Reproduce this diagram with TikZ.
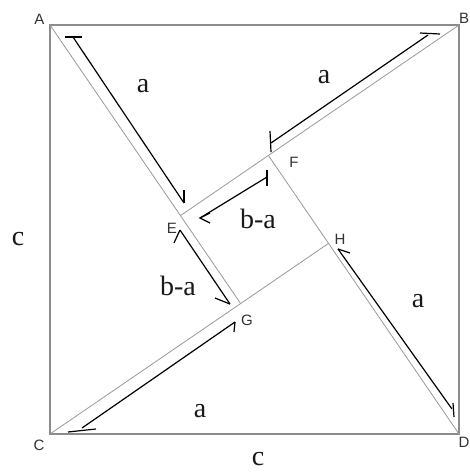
\documentclass[tikz,border=0pt]{standalone}
\usepackage{fontspec}
\setmainfont{Liberation Serif}
\newfontfamily\vfont{Liberation Sans}
\begin{document}
\begin{tikzpicture}[x=1pt,y=-1pt,
  sq/.style={draw=black!45, line width=1.6pt},
  inner/.style={draw=black!40, line width=0.8pt},
  dim/.style={draw=black, line width=1.2pt},
  lbl/.style={font=\fontsize{28}{30}\selectfont, text=black!90, anchor=base, inner sep=0pt},
  vlbl/.style={font=\vfont\fontsize{15}{16}\selectfont, text=black!80, inner sep=0pt}]
\useasboundingbox (0,0) rectangle (470,472);
\fill[white] (0,0) rectangle (470,472);
% corners and inner points
\coordinate (A) at (50,25);
\coordinate (B) at (459,25);
\coordinate (C) at (50,434);
\coordinate (D) at (459,434);
\coordinate (E) at (180.5,215.6);
\coordinate (F) at (268.4,155.5);
\coordinate (G) at (240.6,303.5);
\coordinate (H) at (328.5,243.4);
% square and triangles
\draw[sq] (A) -- (B) -- (D) -- (C) -- cycle;
\draw[inner] (A) -- (G);
\draw[inner] (B) -- (E);
\draw[inner] (C) -- (H);
\draw[inner] (D) -- (F);
% dimension line A-E
\coordinate (ae1) at (73,37);  \coordinate (ae2) at (184,203);
\coordinate (ae1l) at (65,37); \coordinate (ae1r) at (82,37);
\coordinate (ae2b) at (184,190);
\draw[dim] (ae1) -- (ae2);
\draw[dim] (ae1l) -- (ae1r);
\draw[dim] (ae2b) -- (ae2);
% dimension line B-F
\coordinate (bf1) at (428,35);  \coordinate (bf2) at (271,143);
\coordinate (bf1l) at (420,33); \coordinate (bf1r) at (440,34);
\coordinate (bf2t) at (270,131); \coordinate (bf2b) at (271,152);
\draw[dim] (bf1) -- (bf2);
\draw[dim] (bf1l) -- (bf1r);
\draw[dim] (bf2t) -- (bf2b);
% dimension line F-E
\coordinate (fe1) at (267,177);  \coordinate (fe2) at (200,218);
\coordinate (fe1t) at (267,170); \coordinate (fe1b) at (267,186);
\coordinate (fe2u) at (210,213); \coordinate (fe2d) at (210,223);
\draw[dim] (fe1) -- (fe2);
\draw[dim] (fe1t) -- (fe1b);
\draw[dim] (fe2u) -- (fe2) -- (fe2d);
% dimension line E-G
\coordinate (eg1) at (180,230);  \coordinate (eg2) at (230,304);
\coordinate (eg1b) at (174,243); \coordinate (eg2b) at (215,298);
\draw[dim] (eg1) -- (eg2);
\draw[dim] (eg1b) -- (eg1);
\draw[dim] (eg2b) -- (eg2);
% dimension line C-G
\coordinate (cg1) at (82,428);  \coordinate (cg2) at (235,322);
\coordinate (cg1l) at (68,432); \coordinate (cg1r) at (96,429);
\coordinate (cg2b) at (234,332);
\draw[dim] (cg1) -- (cg2);
\draw[dim] (cg1l) -- (cg1r);
\draw[dim] (cg2) -- (cg2b);
% dimension line H-D
\coordinate (hd1) at (338,249);  \coordinate (hd2) at (452,409);
\coordinate (hd1b) at (350,253);
\coordinate (hd2t) at (453,403); \coordinate (hd2b) at (454,417);
\draw[dim] (hd1) -- (hd2);
\draw[dim] (hd1) -- (hd1b);
\draw[dim] (hd2t) -- (hd2b);
% measure labels
\node[lbl] (la1) at (143,92) {a};
\node[lbl] (la2) at (324,83) {a};
\node[lbl] (lba1) at (258,228) {b-a};
\node[lbl] (lba2) at (178,295) {b-a};
\node[lbl] (la3) at (200,417) {a};
\node[lbl] (la4) at (418,307) {a};
\node[lbl] (lc1) at (18,245) {c};
\node[lbl] (lc2) at (258,465) {c};
% vertex labels
\node[vlbl] (tA) at (39.5,19) {A};
\node[vlbl] (tB) at (464,18) {B};
\node[vlbl] (tC) at (39,445) {C};
\node[vlbl] (tD) at (464,442) {D};
\node[vlbl] (tE) at (172,228) {E};
\node[vlbl] (tF) at (294,162) {F};
\node[vlbl] (tG) at (247,320) {G};
\node[vlbl] (tH) at (340,239) {H};
\end{tikzpicture}
\end{document}
